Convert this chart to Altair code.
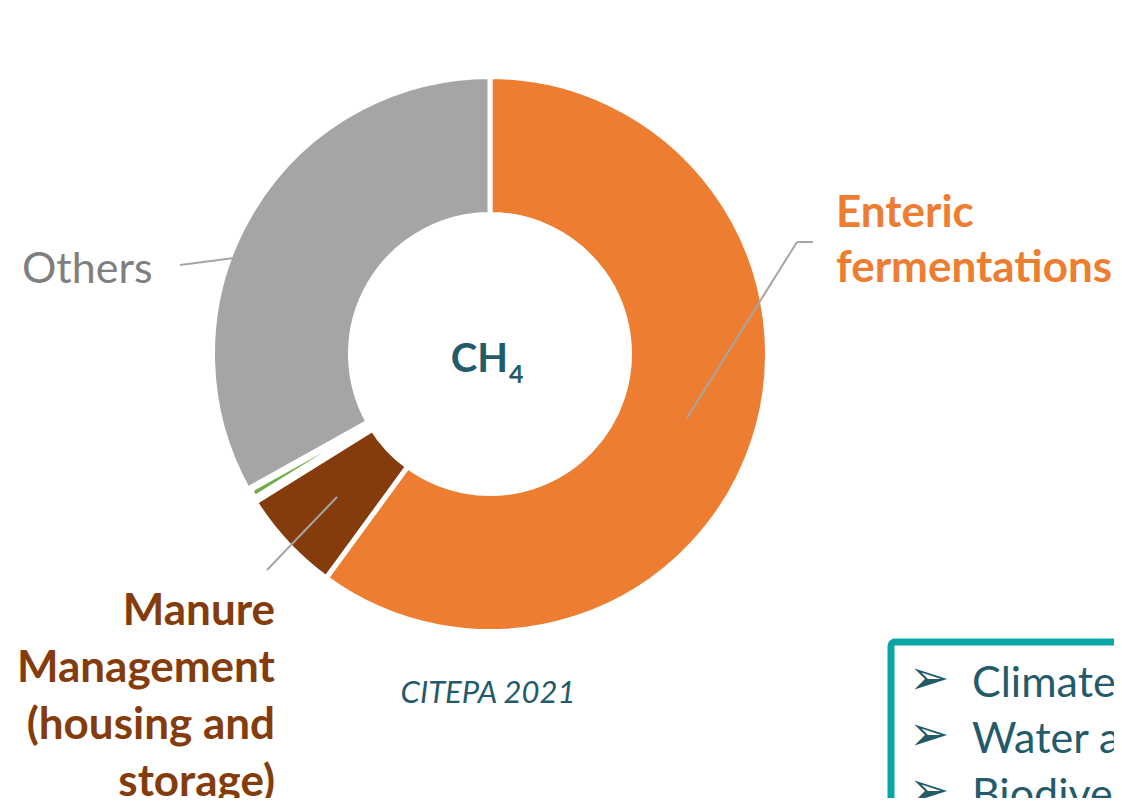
import altair as alt
import pandas as pd

# ---- data ----
categories = ["Enteric fermentations", "Manure management", "Other agriculture", "Others"]
shares = [60.05, 6.1, 0.75, 33.1]
colors = ["#ED7D31", "#843C0C", "#70AD47", "#A5A5A5"]

enteric_label = ["Enteric", "fermentations"]
others_label = ["Others"]
manure_label = ["Manure", "Management", "(housing and", "storage)"]
center_main = "CH"
center_sub = "4"
source_label = "CITEPA 2021"
box_lines = ["Climate", "Water a", "Biodiver"]
bullet = "\u27A2"

df = pd.DataFrame({"cat": categories, "value": shares, "idx": list(range(len(categories)))})

W, H = 1106, 790
CX, CY = 482, 346
TEAL = "#245B6A"
LEADER = "#A6A6A6"

one = alt.Data(values=[{}])

donut = alt.Chart(df).mark_arc(innerRadius=139.5, outerRadius=277.5, stroke="white").encode(
    theta=alt.Theta("value:Q", stack=True),
    color=alt.Color("cat:N", scale=alt.Scale(domain=categories, range=colors), legend=None),
    order=alt.Order("idx:Q"),
    strokeWidth=alt.condition(alt.datum.cat == "Other agriculture", alt.value(9), alt.value(5)),
    x=alt.value(CX),
    y=alt.value(CY),
)

def rule(x1, y1, x2, y2):
    return alt.Chart(one).mark_rule(color=LEADER, strokeWidth=2).encode(
        x=alt.value(x1), y=alt.value(y1), x2=alt.value(x2), y2=alt.value(y2)
    )

leaders = [
    rule(679, 410, 789, 234),
    rule(789, 234, 805, 234),
    rule(172, 257, 226, 250),
    rule(329, 489, 259, 562),
]

def text(lines, x, y, size, color, weight="normal", align="left", style="normal",
         font="Lato", lh=56, baseline="alphabetic"):
    return alt.Chart(one).mark_text(
        align=align, baseline=baseline, font=font, fontSize=size, fontWeight=weight,
        fontStyle=style, color=color, lineHeight=lh,
    ).encode(x=alt.value(x), y=alt.value(y), text=alt.value(lines))

labels = [
    text(enteric_label, 828, 219, 44, "#ED7D31", weight="bold", lh=55),
    text(others_label, 14, 275, 43, "#7F7F7F"),
    text(manure_label, 267, 617, 44, "#843C0C", weight="bold", align="right", lh=57),
    text(center_main, 500, 364, 40, TEAL, weight="bold", align="right"),
    text(center_sub, 501, 375, 25, TEAL, weight="bold"),
    text(source_label, 480, 695, 31, TEAL, align="center", style="italic"),
]

box = alt.Chart(one).mark_rect(
    fill="white", stroke="#0AA6A6", strokeWidth=7, cornerRadius=4
).encode(x=alt.value(883), x2=alt.value(1300), y=alt.value(634), y2=alt.value(900))

bullets = alt.layer(*[
    text([bullet], 921, 672 + 56 * i, 48, TEAL, align="center", font="DejaVu Sans",
         baseline="middle") for i in range(3)
])
box_text = text(box_lines, 964, 689, 43, TEAL, lh=56)

chart = alt.layer(donut, *leaders, *labels, box, bullets, box_text).properties(
    width=W, height=H, padding=0, autosize=alt.AutoSizeParams(type="none")
).configure_view(stroke=None)

chart.save("out.html", embed_options={"renderer": "svg", "actions": False})
